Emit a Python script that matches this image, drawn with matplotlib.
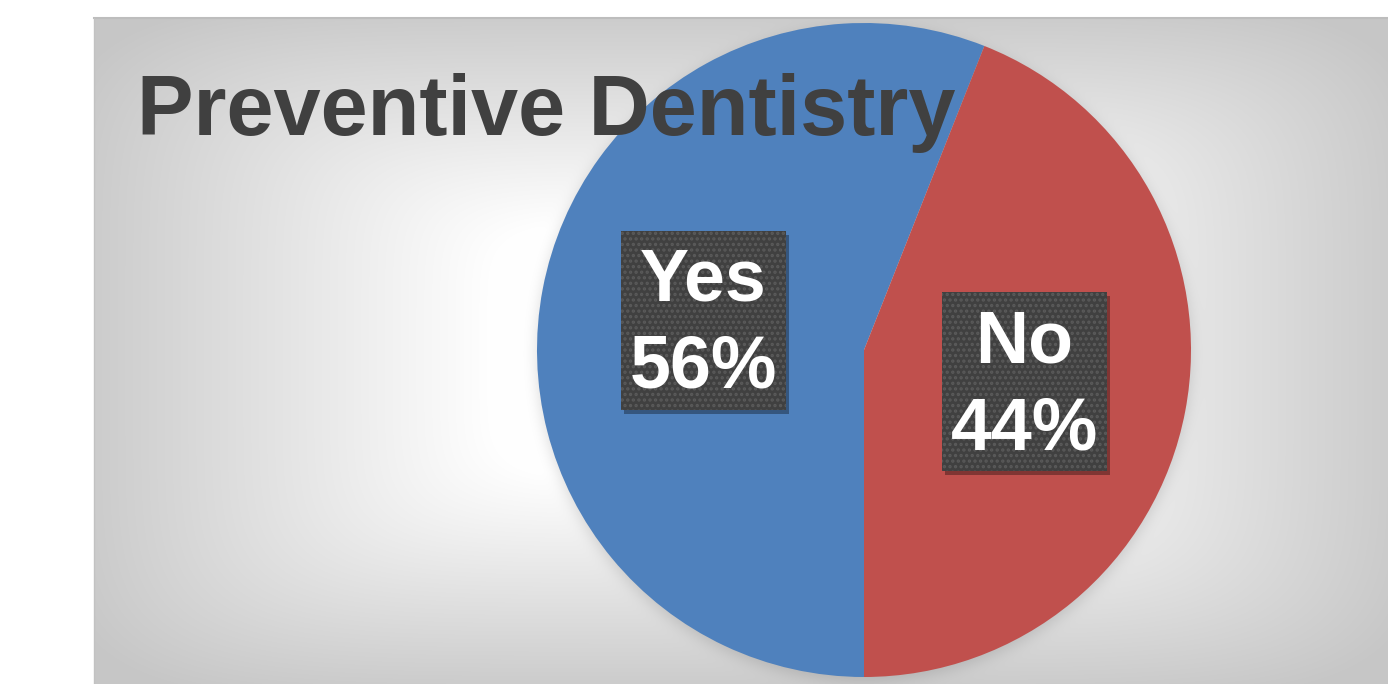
import numpy as np
import matplotlib
matplotlib.use("Agg")
import matplotlib.pyplot as plt
from matplotlib.lines import Line2D
from matplotlib.patches import Rectangle
from matplotlib.transforms import offset_copy, IdentityTransform
import math

plt.rcParams['font.family'] = ['Liberation Sans', 'DejaVu Sans']
plt.rcParams['hatch.linewidth'] = 1.6

# ---- data ----
title = "Preventive Dentistry"
categories = ["Yes", "No"]
values = [56, 44]
colors = ["#4f81bd", "#c0504d"]

W, H, DPI = 1388, 684, 100
fig = plt.figure(figsize=(W / DPI, H / DPI), dpi=DPI)
fig.patch.set_facecolor("white")

# ---- chart area background (path gradient + soft pie shadow) ----
x0, y0 = 94, 18          # pixel left/top of chart area
cw, ch = W - x0, H - y0
cx, cy = x0 + cw / 2, y0 + ch / 2
xx, yy = np.meshgrid(np.arange(x0, W) + 0.5, np.arange(y0, H) + 0.5)
dx = np.abs(xx - cx) / (cw / 2)
dy = np.abs(yy - cy) / (ch / 2)
r = (dx ** 6 + dy ** 6) ** (1 / 6)
v = 1 - 0.2 * np.clip((r - 0.38) / 0.62, 0, 1.1)
v = np.clip(v, 0, 1)
# soft shadow ring around pie
pcx, pcy, R = 864, 350, 327
d = np.hypot(xx - pcx, yy - (pcy + 4))
sh = 0.5 * np.vectorize(math.erfc)((d - R) / 10.0)
v = v * (1 - 0.14 * sh)
img = np.dstack([v, v, v])

bg = fig.add_axes([x0 / W, 0, cw / W, ch / H])
bg.imshow(img, extent=[0, 1, 0, 1], aspect="auto", interpolation="bilinear", origin="upper")
bg.set_xlim(0, 1)
bg.set_ylim(0, 1)
bg.axis("off")

# chart area border
fig.add_artist(Line2D([x0 / W, 1], [1 - y0 / H, 1 - y0 / H], color="#bdbdbd", lw=1.5,
                      transform=fig.transFigure))
fig.add_artist(Line2D([x0 / W, x0 / W], [0, 1 - y0 / H], color="#c2c2c2", lw=1.0,
                      transform=fig.transFigure))

# ---- pie ----
FS = 53
LS = 1.33
ax = fig.add_axes([(pcx - R) / W, (H - pcy - R) / H, 2 * R / W, 2 * R / H])
total = sum(values)
labels = [f"{c}\n{v_ * 100 / total:.0f}%" for c, v_ in zip(categories, values)]
wedges, texts = ax.pie(values, colors=colors, startangle=270, counterclock=False,
                       labels=labels, labeldistance=0.5, radius=1,
                       wedgeprops=dict(linewidth=0),
                       textprops=dict(color="white", fontsize=FS, fontweight="bold",
                                      linespacing=LS))
ax.set_xlim(-1, 1)
ax.set_ylim(-1, 1)
ax.axis("off")

for t in texts:
    t.set_ha("center")
    t.set_va("center")
    t.set_multialignment("center")
    t.set_transform(offset_copy(ax.transData, fig=fig, x=0, y=-5.5, units="dots"))
    t.set_zorder(5)

# ---- title ----
fig.text(137 / W, 1 - 135 / H, title, fontsize=61, fontweight="bold", color="#404040",
         ha="left", va="baseline", zorder=10)

# label boxes sized from the rendered text extents
fig.canvas.draw()
renderer = fig.canvas.get_renderer()
padx, pad_top, pad_bot = 8.8, 15.8, 6.8
for t in texts:
    bb = t.get_window_extent(renderer)
    bx, by = bb.x0 - padx, bb.y0 - pad_bot
    bw, bh = bb.width + 2 * padx, bb.height + pad_top + pad_bot
    ax.add_patch(Rectangle((bx + 3, by - 4), bw, bh, transform=IdentityTransform(),
                           facecolor="black", alpha=0.33, edgecolor="none",
                           clip_on=False, zorder=3))
    ax.add_patch(Rectangle((bx, by), bw, bh, transform=IdentityTransform(),
                           facecolor="#404040", edgecolor="#5a5a5a", linewidth=0,
                           hatch="...", clip_on=False, zorder=4))
ax.set_xlim(-1, 1)
ax.set_ylim(-1, 1)

fig.savefig("out.png", dpi=DPI)
